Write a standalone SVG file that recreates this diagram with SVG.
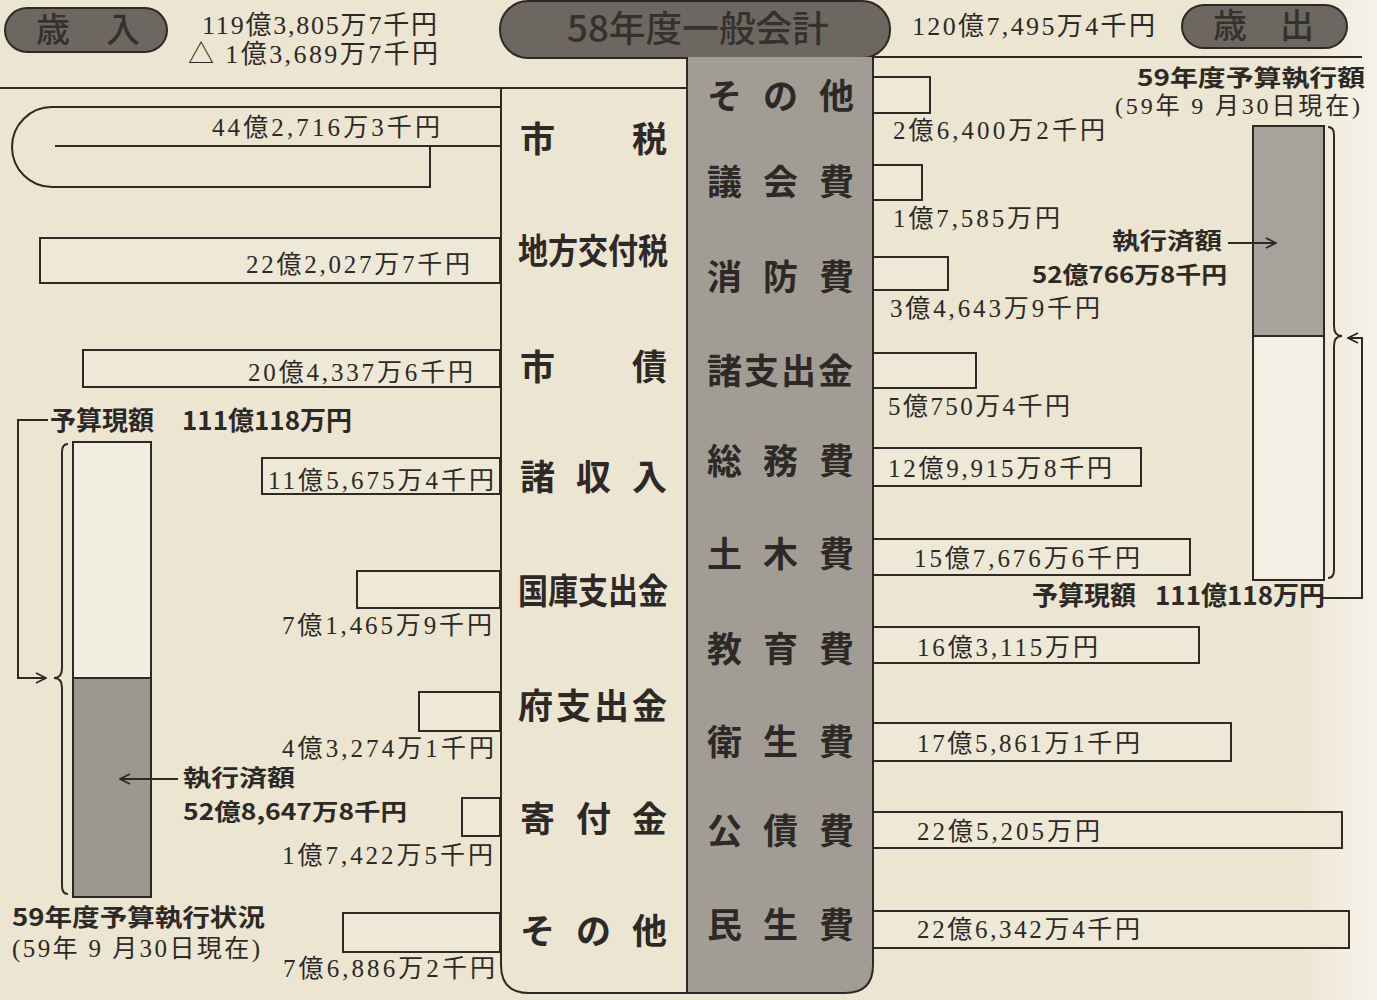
<svg xmlns="http://www.w3.org/2000/svg" width="1377" height="1000" viewBox="0 0 1377 1000">
<defs>
<style>
.ln{stroke:#2d2926;stroke-width:2;fill:none}
.bar{stroke:#2d2926;stroke-width:2;fill:#eee8d6}
.num{font-family:"Liberation Serif","Noto Sans CJK JP",serif;font-size:25px;fill:#2d2926}
.lab{font-family:"Noto Sans CJK JP",sans-serif;font-weight:700;font-size:35px;fill:#2d2926}
.bld{font-family:"Noto Sans CJK JP",sans-serif;font-weight:700;font-size:23px;fill:#2d2926}
.pill{fill:#6c6760;stroke:#2d2926;stroke-width:2}
.ptx{font-family:"Noto Sans CJK JP",sans-serif;font-weight:500;fill:#35312d}
</style>
<marker id="ah" viewBox="0 0 12 12" refX="11" refY="6" markerWidth="12" markerHeight="12" markerUnits="userSpaceOnUse" orient="auto">
<path d="M1 1 L11 6 L1 11" fill="none" stroke="#2d2926" stroke-width="1.8"/>
</marker>
<linearGradient id="edge" x1="0" y1="0" x2="1" y2="0">
<stop offset="0" stop-color="#ffffff" stop-opacity="0"/>
<stop offset="1" stop-color="#f7f4ee" stop-opacity="0.8"/>
</linearGradient>
</defs>
<rect width="1377" height="1000" fill="#ebe5d1"/>
<rect x="1300" y="0" width="77" height="1000" fill="url(#edge)"/>

<!-- header -->
<g id="header">
<g id="pill-revenue">
<rect class="pill" x="5" y="8" width="162" height="44" rx="22"/>
<text class="ptx" font-size="34" y="42"><tspan x="36">歳</tspan><tspan x="106">入</tspan></text>
</g>
<text class="num" style="font-size:26px" x="202" y="34" textLength="235" lengthAdjust="spacing">119億3,805万7千円</text>
<text class="num" style="font-size:26px" x="188" y="63" textLength="250" lengthAdjust="spacing">△ 1億3,689万7千円</text>
<g id="pill-general">
<rect x="687" y="50" width="186" height="20" fill="#a19d95"/>
<rect class="pill" x="500" y="1" width="390" height="57" rx="28"/>
<text class="ptx" font-size="36" x="567" y="42" textLength="262" lengthAdjust="spacingAndGlyphs">58年度一般会計</text>
</g>
<text class="num" style="font-size:26px" x="912" y="35" textLength="243" lengthAdjust="spacing">120億7,495万4千円</text>
<g id="pill-expenditure">
<rect class="pill" x="1182" y="5" width="165" height="43" rx="22"/>
<text class="ptx" font-size="34" y="38"><tspan x="1213">歳</tspan><tspan x="1280">出</tspan></text>
</g>
</g>

<!-- panels -->
<g id="panel-expenditure">
<path d="M687 57 V993 H845 Q873 993 873 965 V57" fill="#a19d95" stroke="#2d2926" stroke-width="2"/>
</g>
<g id="panel-revenue">
<path d="M501 88 V965 Q501 993 529 993 H687" class="ln"/>
</g>

<!-- revenue items -->
<g id="rev-shizei">
<path class="ln" d="M500 107 H52 A40 40 0 0 0 52 187 H430 V146 M500 146 H55"/>
<text class="num" x="212" y="136" textLength="228" lengthAdjust="spacing">44億2,716万3千円</text>
<text class="lab" y="152"><tspan x="520">市</tspan><tspan x="632">税</tspan></text>
</g>
<g id="rev-chihokofuzei">
<rect class="bar" x="40" y="238" width="460" height="45"/>
<text class="num" x="246" y="273" textLength="224" lengthAdjust="spacing">22億2,027万7千円</text>
<text class="lab" x="518" y="264" textLength="150" lengthAdjust="spacingAndGlyphs">地方交付税</text>
</g>
<g id="rev-shisai">
<rect class="bar" x="83" y="350" width="417" height="37"/>
<text class="num" x="248" y="381" textLength="225" lengthAdjust="spacing">20億4,337万6千円</text>
<text class="lab" y="380"><tspan x="520">市</tspan><tspan x="632">債</tspan></text>
</g>
<g id="rev-shoshunyu">
<rect class="bar" x="262" y="458" width="238" height="36"/>
<text class="num" x="268" y="489" textLength="226" lengthAdjust="spacing">11億5,675万4千円</text>
<text class="lab" y="490"><tspan x="520">諸</tspan><tspan x="576">収</tspan><tspan x="632">入</tspan></text>
</g>
<g id="rev-kokko">
<rect class="bar" x="357" y="571" width="143" height="37"/>
<text class="num" x="282" y="634" textLength="210" lengthAdjust="spacing">7億1,465万9千円</text>
<text class="lab" x="518" y="604" textLength="150" lengthAdjust="spacingAndGlyphs">国庫支出金</text>
</g>
<g id="rev-fu">
<rect class="bar" x="419" y="692" width="81" height="39"/>
<text class="num" x="282" y="757" textLength="212" lengthAdjust="spacing">4億3,274万1千円</text>
<text class="lab" y="719"><tspan x="518">府</tspan><tspan x="556">支</tspan><tspan x="594">出</tspan><tspan x="632">金</tspan></text>
</g>
<g id="rev-kifu">
<rect class="bar" x="462" y="798" width="38" height="38"/>
<text class="num" x="282" y="864" textLength="211" lengthAdjust="spacing">1億7,422万5千円</text>
<text class="lab" y="832"><tspan x="520">寄</tspan><tspan x="576">付</tspan><tspan x="632">金</tspan></text>
</g>
<g id="rev-sonota">
<rect class="bar" x="343" y="913" width="157" height="39"/>
<text class="num" x="283" y="977" textLength="212" lengthAdjust="spacing">7億6,886万2千円</text>
<text class="lab" y="944"><tspan x="520">そ</tspan><tspan x="576">の</tspan><tspan x="632">他</tspan></text>
</g>

<!-- expenditure items -->
<g id="exp-sonota">
<rect class="bar" x="873" y="77" width="57" height="36"/>
<text class="num" x="893" y="139" textLength="212" lengthAdjust="spacing">2億6,400万2千円</text>
<text class="lab" y="109"><tspan x="707">そ</tspan><tspan x="763">の</tspan><tspan x="819">他</tspan></text>
</g>
<g id="exp-gikai">
<rect class="bar" x="873" y="165" width="49" height="35"/>
<text class="num" x="893" y="227" textLength="167" lengthAdjust="spacing">1億7,585万円</text>
<text class="lab" y="195"><tspan x="707">議</tspan><tspan x="763">会</tspan><tspan x="819">費</tspan></text>
</g>
<g id="exp-shobo">
<rect class="bar" x="873" y="257" width="75" height="33"/>
<text class="num" x="890" y="317" textLength="210" lengthAdjust="spacing">3億4,643万9千円</text>
<text class="lab" y="290"><tspan x="707">消</tspan><tspan x="763">防</tspan><tspan x="819">費</tspan></text>
</g>
<g id="exp-shoshishutsu">
<rect class="bar" x="873" y="353" width="103" height="35"/>
<text class="num" x="888" y="415" textLength="182" lengthAdjust="spacing">5億750万4千円</text>
<text class="lab" y="384"><tspan x="707">諸</tspan><tspan x="744">支</tspan><tspan x="781">出</tspan><tspan x="818">金</tspan></text>
</g>
<g id="exp-somu">
<rect class="bar" x="873" y="448" width="268" height="38"/>
<text class="num" x="888" y="477" textLength="224" lengthAdjust="spacing">12億9,915万8千円</text>
<text class="lab" y="474"><tspan x="707">総</tspan><tspan x="763">務</tspan><tspan x="819">費</tspan></text>
</g>
<g id="exp-doboku">
<rect class="bar" x="873" y="539" width="317" height="36"/>
<text class="num" x="914" y="567" textLength="226" lengthAdjust="spacing">15億7,676万6千円</text>
<text class="lab" y="567"><tspan x="707">土</tspan><tspan x="763">木</tspan><tspan x="819">費</tspan></text>
</g>
<g id="exp-kyoiku">
<rect class="bar" x="873" y="627" width="326" height="36"/>
<text class="num" x="917" y="656" textLength="181" lengthAdjust="spacing">16億3,115万円</text>
<text class="lab" y="662"><tspan x="707">教</tspan><tspan x="763">育</tspan><tspan x="819">費</tspan></text>
</g>
<g id="exp-eisei">
<rect class="bar" x="873" y="723" width="358" height="38"/>
<text class="num" x="917" y="752" textLength="223" lengthAdjust="spacing">17億5,861万1千円</text>
<text class="lab" y="755"><tspan x="707">衛</tspan><tspan x="763">生</tspan><tspan x="819">費</tspan></text>
</g>
<g id="exp-kosai">
<rect class="bar" x="873" y="812" width="469" height="36"/>
<text class="num" x="917" y="840" textLength="183" lengthAdjust="spacing">22億5,205万円</text>
<text class="lab" y="844"><tspan x="707">公</tspan><tspan x="763">債</tspan><tspan x="819">費</tspan></text>
</g>
<g id="exp-minsei">
<rect class="bar" x="873" y="911" width="476" height="37"/>
<text class="num" x="917" y="938" textLength="223" lengthAdjust="spacing">22億6,342万4千円</text>
<text class="lab" y="938"><tspan x="707">民</tspan><tspan x="763">生</tspan><tspan x="819">費</tspan></text>
</g>

<!-- left inset -->
<g id="inset-revenue">
<rect x="73" y="442" width="78" height="236" fill="#f2eee2"/>
<rect x="73" y="678" width="78" height="219" fill="#9c988f"/>
<rect class="ln" x="73" y="442" width="78" height="455"/>
<path class="ln" d="M73 678 H151"/>
<text class="bld" style="font-size:26px" y="430"><tspan x="50">予算現額</tspan><tspan x="182">111億118万円</tspan></text>
<text class="bld" x="183" y="786" textLength="112" lengthAdjust="spacingAndGlyphs">執行済額</text>
<text class="bld" x="183" y="820" textLength="224" lengthAdjust="spacingAndGlyphs">52億8,647万8千円</text>
<text class="bld" style="font-size:24px" x="12" y="926" textLength="253" lengthAdjust="spacingAndGlyphs">59年度予算執行状況</text>
<text class="num" x="12" y="957" textLength="248" lengthAdjust="spacing">(59年 9 月30日現在)</text>
</g>

<!-- right inset -->
<g id="inset-expenditure">
<rect x="1253" y="126" width="71" height="210" fill="#a6a39c"/>
<rect x="1253" y="336" width="71" height="244" fill="#f3efe5"/>
<rect class="ln" x="1253" y="126" width="71" height="454"/>
<path class="ln" d="M1253 336 H1324"/>
<text class="bld" x="1137" y="86" textLength="228" lengthAdjust="spacingAndGlyphs">59年度予算執行額</text>
<text class="num" style="font-size:24px" x="1115" y="114" textLength="245" lengthAdjust="spacing">(59年 9 月30日現在)</text>
<text class="bld" x="1112" y="249" textLength="110" lengthAdjust="spacingAndGlyphs">執行済額</text>
<text class="bld" x="1032" y="283" textLength="195" lengthAdjust="spacingAndGlyphs">52億766万8千円</text>
<text class="bld" style="font-size:26px" y="605"><tspan x="1032">予算現額</tspan><tspan x="1155">111億118万円</tspan></text>
</g>

<g id="connectors">
<path class="ln" d="M0 88 H687"/>
<path class="ln" d="M873 57 H1362"/>
<path class="ln" d="M48 420 H18 V678 H46" marker-end="url(#ah)"/>
<path class="ln" d="M178 779 H120" marker-end="url(#ah)"/>
<path class="ln" d="M1228 243 H1276" marker-end="url(#ah)"/>
<path class="ln" d="M1322 598 H1362 V338 H1348" marker-end="url(#ah)"/>
<path class="ln" d="M68 444 Q62 444 62 452 V668 Q62 678 54 678 Q62 678 62 688 V886 Q62 894 68 894"/>
<path class="ln" d="M1328 127 Q1334 127 1334 135 V326 Q1334 336 1342 336 Q1334 336 1334 346 V570 Q1334 578 1328 578"/>
</g>
</svg>
